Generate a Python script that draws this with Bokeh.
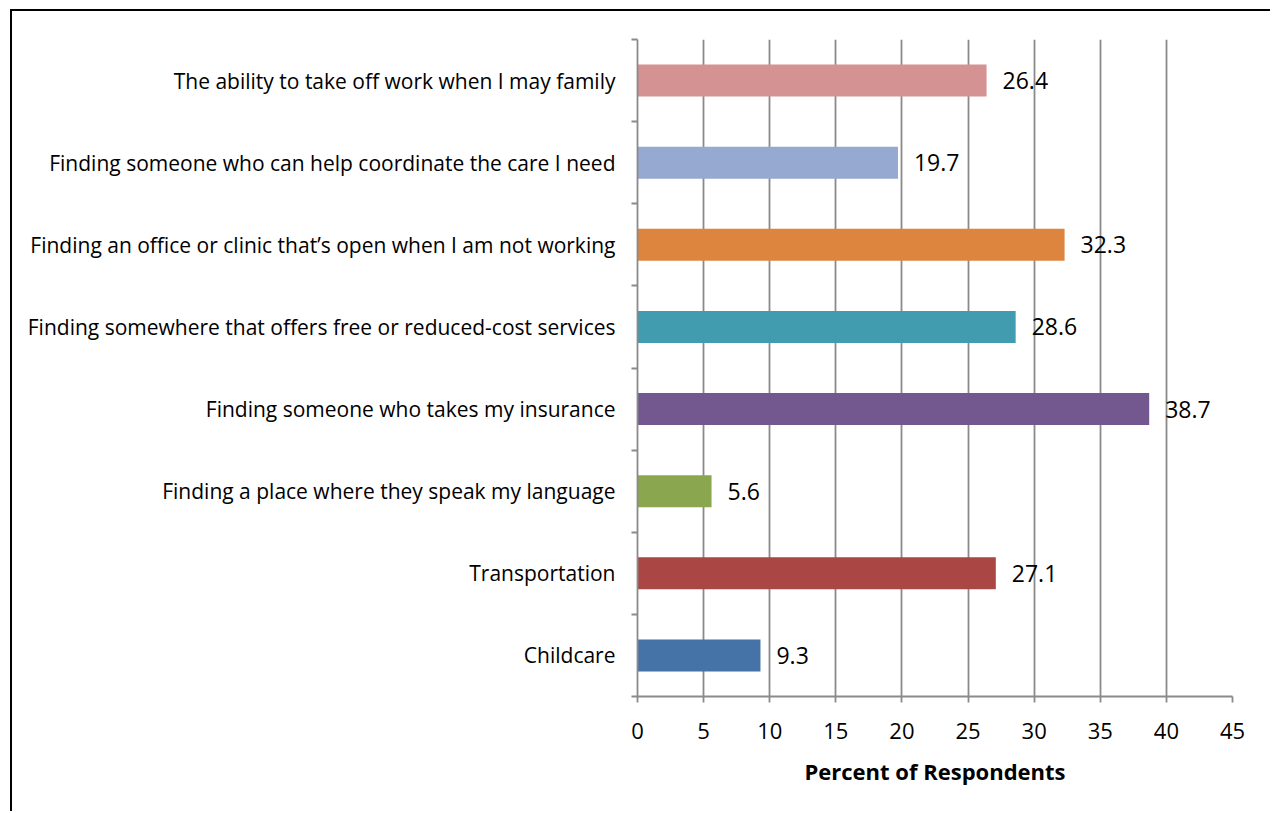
from bokeh.plotting import figure
from bokeh.models import ColumnDataSource, FixedTicker, LabelSet
from bokeh.core.properties import value
from bokeh.embed import file_html
from bokeh.resources import INLINE

categories = [
    "Childcare",
    "Transportation",
    "Finding a place where they speak my language",
    "Finding someone who takes my insurance",
    "Finding somewhere that offers free or reduced-cost services",
    "Finding an office or clinic that\u2019s open when I am not working",
    "Finding someone who can help coordinate the care I need",
    "The ability to take off work when I may family",
]
values = [9.3, 27.1, 5.6, 38.7, 28.6, 32.3, 19.7, 26.4]
colors = ["#4572A7", "#AA4644", "#8AA74F", "#72588E", "#419CB0", "#DD843F", "#95A9D1", "#D59293"]
x_ticks = [0, 5, 10, 15, 20, 25, 30, 35, 40, 45]

FONT = "Open Sans"
GRID = "#8a8a8a"

ypos = [i + 0.5 for i in range(len(categories))]
src = ColumnDataSource(dict(y=ypos, v=values, c=colors, lab=[f"{v:.1f}" for v in values]))

p = figure(width=1260, height=802, output_backend="svg", toolbar_location=None,
           x_range=(0, 45), y_range=(0, len(categories)),
           min_border_left=625, min_border_right=40, min_border_top=28, min_border_bottom=117)
p.styles = {"margin-left": "10px", "margin-top": "9px",
            "border-left": "2px solid black", "border-top": "2px solid black"}
p.outline_line_color = None
p.background_fill_color = "white"
p.border_fill_color = "white"

p.hbar(y="y", left=0, right="v", height=0.39, fill_color="c", line_color=None, source=src)

labels = LabelSet(x="v", y="y", text="lab", source=src, x_offset=16, y_offset=0,
                  text_baseline="middle", text_align="left", text_font=value(FONT),
                  text_font_size="23px", text_color="black")
p.add_layout(labels)

# x axis
p.xaxis.ticker = FixedTicker(ticks=x_ticks)
p.xaxis.axis_line_color = GRID
p.xaxis.axis_line_width = 1.8
p.xaxis.major_tick_line_color = GRID
p.xaxis.major_tick_line_width = 1.8
p.xaxis.major_tick_out = 6
p.xaxis.major_tick_in = 0
p.xaxis.minor_tick_line_color = None
p.xaxis.major_label_text_font = FONT
p.xaxis.major_label_text_font_size = "22px"
p.xaxis.major_label_text_color = "black"
p.xaxis.major_label_standoff = 20
p.xaxis.axis_label = "Percent of Respondents"
p.xaxis.axis_label_text_font = FONT
p.xaxis.axis_label_text_font_size = "22px"
p.xaxis.axis_label_text_font_style = "bold"
p.xaxis.axis_label_text_color = "black"
p.xaxis.axis_label_standoff = 14

# y axis
p.yaxis.ticker = FixedTicker(ticks=ypos, minor_ticks=list(range(len(categories) + 1)))
p.yaxis.major_label_overrides = {y: c for y, c in zip(ypos, categories)}
p.yaxis.axis_line_color = GRID
p.yaxis.axis_line_width = 1.8
p.yaxis.major_tick_line_color = None
p.yaxis.minor_tick_line_color = GRID
p.yaxis.minor_tick_line_width = 1.8
p.yaxis.minor_tick_out = 6
p.yaxis.minor_tick_in = 0
p.yaxis.major_label_text_font = FONT
p.yaxis.major_label_text_font_size = "21px"
p.yaxis.major_label_text_color = "black"
p.yaxis.major_label_standoff = 16

p.xgrid.ticker = FixedTicker(ticks=x_ticks)
p.xgrid.grid_line_color = GRID
p.xgrid.grid_line_width = 1.8
p.ygrid.grid_line_color = None

open("out.html", "w").write(file_html(p, INLINE))
